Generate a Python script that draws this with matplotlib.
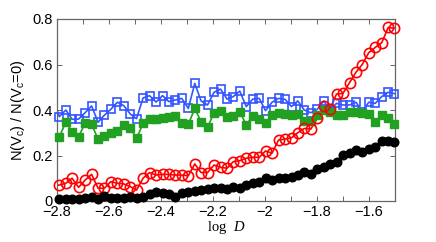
import matplotlib
matplotlib.use("Agg")
import matplotlib.pyplot as plt
from matplotlib.ticker import MultipleLocator

log_D = [-2.816, -2.791, -2.766, -2.742, -2.717, -2.692, -2.667, -2.642, -2.618, -2.593,
         -2.568, -2.543, -2.518, -2.494, -2.469, -2.444, -2.419, -2.394, -2.370, -2.345,
         -2.320, -2.295, -2.270, -2.246, -2.221, -2.196, -2.171, -2.146, -2.122, -2.097,
         -2.072, -2.047, -2.022, -1.998, -1.973, -1.948, -1.923, -1.898, -1.874, -1.849,
         -1.824, -1.799, -1.774, -1.750, -1.725, -1.700, -1.675, -1.650, -1.626, -1.601,
         -1.576, -1.551, -1.526, -1.502]

blue = [0.45, 0.371, 0.40, 0.359, 0.36, 0.388, 0.418, 0.346, 0.377, 0.403,
        0.434, 0.419, 0.382, 0.362, 0.453, 0.463, 0.435, 0.463, 0.437, 0.444,
        0.451, 0.407, 0.517, 0.44, 0.422, 0.478, 0.492, 0.448, 0.459, 0.483,
        0.415, 0.448, 0.451, 0.397, 0.434, 0.451, 0.447, 0.415, 0.44, 0.40,
        0.388, 0.403, 0.44, 0.40, 0.429, 0.422, 0.422, 0.434, 0.393, 0.434,
        0.429, 0.459, 0.478, 0.472]

green = [0.33, 0.283, 0.346, 0.305, 0.283, 0.341, 0.337, 0.272, 0.287, 0.30,
         0.309, 0.334, 0.319, 0.275, 0.341, 0.36, 0.36, 0.366, 0.37, 0.374,
         0.341, 0.337, 0.407, 0.349, 0.324, 0.388, 0.397, 0.368, 0.374, 0.393,
         0.334, 0.375, 0.36, 0.341, 0.378, 0.385, 0.382, 0.378, 0.382, 0.352,
         0.352, 0.378, 0.40, 0.393, 0.378, 0.378, 0.393, 0.393, 0.385, 0.382,
         0.346, 0.378, 0.366, 0.338]

red = [0.07, 0.07, 0.078, 0.10, 0.06, 0.092, 0.117, 0.056, 0.056, 0.085,
       0.078, 0.075, 0.063, 0.048, 0.10, 0.125, 0.114, 0.117, 0.117, 0.114,
       0.114, 0.111, 0.163, 0.125, 0.125, 0.158, 0.148, 0.144, 0.173, 0.177,
       0.188, 0.192, 0.192, 0.22, 0.21, 0.268, 0.272, 0.278, 0.30, 0.319,
       0.316, 0.363, 0.419, 0.404, 0.47, 0.473, 0.52, 0.566, 0.60, 0.652,
       0.675, 0.696, 0.763, 0.759]

black = [0.007, 0.007, 0.007, 0.007, 0.007, 0.012, 0.019, 0.007, 0.02, 0.015,
         0.012, 0.015, 0.019, 0.015, 0.019, 0.031, 0.041, 0.034, 0.031, 0.019,
         0.034, 0.041, 0.044, 0.048, 0.053, 0.059, 0.059, 0.053, 0.063, 0.056,
         0.07, 0.078, 0.085, 0.10, 0.092, 0.10, 0.103, 0.107, 0.114, 0.129,
         0.119, 0.141, 0.151, 0.163, 0.173, 0.202, 0.21, 0.224, 0.217, 0.229,
         0.239, 0.264, 0.265, 0.261]

x_ticks = [-2.8, -2.6, -2.4, -2.2, -2.0, -1.8, -1.6]
x_tick_labels = ["\u22122.8", "\u22122.6", "\u22122.4", "\u22122.2", "\u22122", "\u22121.8", "\u22121.6"]
y_ticks = [0, 0.2, 0.4, 0.6, 0.8]
y_tick_labels = ["0", "0.2", "0.4", "0.6", "0.8"]
x_min, x_max = -2.8, -1.5

plt.rcParams['font.family'] = ['Liberation Sans', 'DejaVu Sans']
plt.rcParams['mathtext.fontset'] = 'custom'
plt.rcParams['mathtext.rm'] = 'Liberation Sans'
plt.rcParams['mathtext.it'] = 'Liberation Serif:italic'

fig = plt.figure(figsize=(4.36, 2.42), dpi=100)
ax = fig.add_axes([57/436, 1 - 201/242, (395 - 57)/436, (201 - 19)/242])

series = [
    (blue, '#3355ff', 's', 'none', 5.6, 1.2),
    (green, '#22a022', 's', '#22a022', 5.2, 1.0),
    (red, '#ff0000', 'o', 'none', 7.4, 1.2),
    (black, '#000000', 'o', '#000000', 6.2, 1.0),
]

for vals, col, mk, fc, ms, mew in series:
    ax.plot(log_D, vals, '-', color=col, lw=1.2, clip_on=True, zorder=2)
    xs = [xv for xv in log_D if x_min <= xv <= x_max]
    ys = [v for xv, v in zip(log_D, vals) if x_min <= xv <= x_max]
    ax.plot(xs, ys, linestyle='none', marker=mk, color=col, mfc=fc, mec=col,
            ms=ms, mew=mew, clip_on=False, zorder=3)

ax.set_xlim(x_min, x_max)
ax.set_ylim(0, 0.8)
ax.set_xticks(x_ticks)
ax.set_xticklabels(x_tick_labels)
ax.set_yticks(y_ticks)
ax.set_yticklabels(y_tick_labels)
ax.xaxis.set_minor_locator(MultipleLocator(0.1))

for sp in ax.spines.values():
    sp.set_color('#666666')
    sp.set_linewidth(0.9)
ax.tick_params(which='both', direction='in', top=True, right=True, color='#666666',
               labelsize=10.5, labelcolor='black', pad=3)
ax.tick_params(which='major', length=3.5, width=0.7)
ax.tick_params(which='minor', length=3.5, width=0.7)

ax.set_xlabel('log  $\\it{D}$', fontsize=10.5, labelpad=0)
ax.xaxis.label.set_family('Liberation Serif')
ax.set_ylabel('N(V$_\\mathregular{c}$) / N(V$_\\mathregular{c}$=0)', fontsize=10.5, labelpad=4)

fig.savefig('out.png', dpi=100)
